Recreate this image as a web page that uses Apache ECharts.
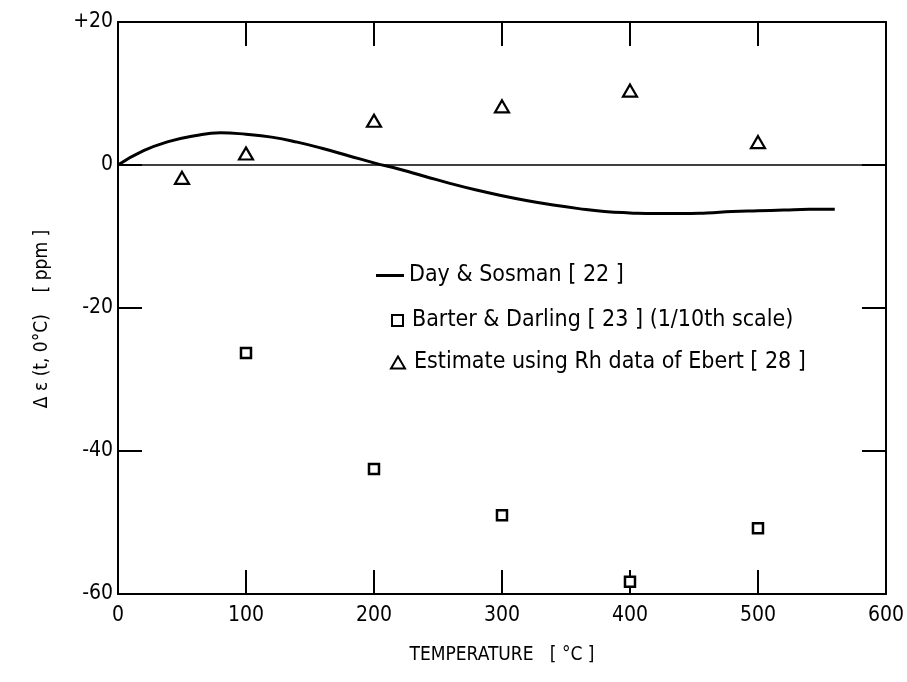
<!DOCTYPE html>
<html>
<head>
<meta charset="utf-8">
<script src="https://cdn.jsdelivr.net/npm/echarts@6/dist/echarts.min.js"></script>
<style>
  html, body { margin: 0; padding: 0; background: #fff; }
  #chart { width: 907px; height: 682px; }
</style>
</head>
<body>
<div id="chart"></div>
<script>
  // Day & Sosman curve (temperature, ppm)
  const sosmanT = [0, 20, 40, 60, 80, 100, 120, 140, 160, 180, 200, 220, 240, 260, 280, 300,
                   320, 340, 360, 380, 400, 420, 440, 460, 480, 500, 520, 540, 560];
  const sosmanV = [0, 2.0, 3.3, 4.1, 4.5, 4.3, 3.9, 3.2, 2.3, 1.3, 0.3, -0.6, -1.6, -2.6, -3.5, -4.3,
                   -5.0, -5.6, -6.1, -6.5, -6.7, -6.8, -6.8, -6.7, -6.5, -6.4, -6.3, -6.2, -6.2];

  // Barter & Darling (1/10th scale)
  const barterT = [100, 200, 300, 400, 500];
  const barterV = [-26.3, -42.5, -49.0, -58.3, -50.8];

  // Estimate using Rh data of Ebert
  const ebertT = [50, 100, 200, 300, 400, 500];
  const ebertV = [-1.8, 1.6, 6.2, 8.2, 10.4, 3.2];

  const font = "'Liberation Sans Narrow', 'DejaVu Sans Condensed', 'DejaVu Sans', sans-serif";
  const names = ['Day & Sosman [ 22 ]', 'Barter & Darling [ 23 ] (1/10th scale)', 'Estimate using Rh data of Ebert [ 28 ]'];

  const pairs = (xs, ys) => xs.map((x, i) => [x, ys[i]]);

  const axisCommon = {
    axisLine: { onZero: false, lineStyle: { color: '#000', width: 2 } },
    axisTick: { inside: true, length: 24, lineStyle: { color: '#000', width: 2 } },
    splitLine: { show: false }
  };

  const legendText = { color: '#000', fontFamily: font, fontSize: 23, padding: [0, 0, 0, 4] };

  const option = {
    backgroundColor: '#fff',
    animation: false,
    grid: { left: 118, right: 20, top: 22, bottom: 88 },
    legend: [
      { data: [{ name: names[0], icon: 'rect' }], left: 371, top: 259, itemWidth: 28, itemHeight: 3,
        textStyle: Object.assign({}, legendText, { padding: 0 }) },
      { data: [names[1]], left: 386, top: 304, itemWidth: 11, itemHeight: 11, textStyle: legendText },
      { data: [names[2]], left: 385, top: 346, itemWidth: 14, itemHeight: 12, textStyle: legendText }
    ],
    xAxis: [
      Object.assign({
        type: 'value', min: 0, max: 600, interval: 100, position: 'bottom',
        name: 'TEMPERATURE   [ °C ]', nameLocation: 'middle', nameGap: 52,
        nameTextStyle: { color: '#000', fontFamily: font, fontSize: 19 },
        axisLabel: { color: '#000', fontFamily: font, fontSize: 21, margin: 11 }
      }, axisCommon),
      Object.assign({
        type: 'value', min: 0, max: 600, interval: 100, position: 'top',
        axisLabel: { show: false }
      }, axisCommon)
    ],
    yAxis: [
      Object.assign({
        type: 'value', min: -60, max: 20, interval: 20, position: 'left',
        name: 'Δ ε (t, 0°C)    [ ppm ]', nameLocation: 'middle', nameGap: 66, nameRotate: 90,
        nameTextStyle: { color: '#000', fontFamily: font, fontSize: 19, padding: [0, 22, 0, 0] },
        axisLabel: {
          color: '#000', fontFamily: font, fontSize: 21, margin: 5,
          formatter: v => (v > 0 ? '+' + v : String(v))
        }
      }, axisCommon),
      Object.assign({
        type: 'value', min: -60, max: 20, interval: 20, position: 'right',
        axisLabel: { show: false }
      }, axisCommon)
    ],
    series: [
      {
        name: names[0], type: 'line', smooth: true, symbol: 'none',
        data: pairs(sosmanT, sosmanV),
        lineStyle: { color: '#000', width: 3 },
        itemStyle: { color: '#000' },
        markLine: {
          silent: true, symbol: 'none', label: { show: false },
          lineStyle: { color: '#000', width: 1.5, type: 'solid' },
          data: [{ yAxis: 0 }]
        }
      },
      {
        name: names[1], type: 'scatter', symbol: 'rect', symbolSize: 10,
        data: pairs(barterT, barterV),
        itemStyle: { color: '#fff', borderColor: '#000', borderWidth: 2.5, opacity: 1 }
      },
      {
        name: names[2], type: 'scatter', symbol: 'triangle', symbolSize: [14, 12],
        data: pairs(ebertT, ebertV),
        itemStyle: { color: '#fff', borderColor: '#000', borderWidth: 2.2, opacity: 1 }
      }
    ]
  };

  const chart = echarts.init(document.getElementById('chart'), null, { renderer: 'canvas' });
  chart.setOption(option);
</script>
</body>
</html>
